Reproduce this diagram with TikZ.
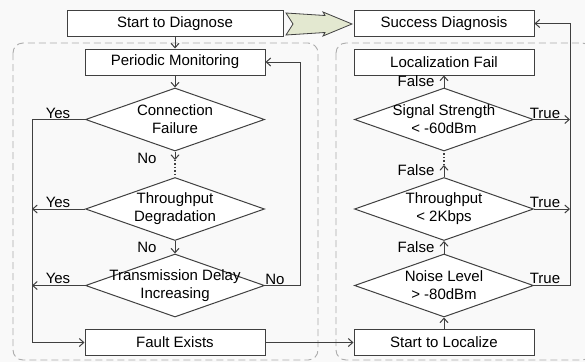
\documentclass[tikz,border=0pt]{standalone}
\usepackage{fontspec}
\setmainfont{Liberation Sans}
\usetikzlibrary{shapes.geometric,arrows.meta}
\definecolor{arrowfill}{HTML}{E3E8D0}

\begin{document}
\begin{tikzpicture}[
  x=1pt, y=-1pt,
  >={Straight Barb[length=4.5pt,width=8pt]},
  every node/.style={font=\fontsize{15}{18}\selectfont},
  box/.style={rectangle, draw=black!75, fill=white, line width=1pt,
              minimum width=180pt, minimum height=26pt, inner sep=0pt},
  cond/.style={diamond, draw=black!75, fill=white, line width=1pt,
               minimum width=179pt, minimum height=63pt, inner sep=0pt},
  condtext/.style={align=center, inner sep=0pt},
  lbl/.style={inner sep=0pt},
  conn/.style={->, draw=black!75, line width=1pt},
  dots/.style={draw=black!75, line width=1.4pt, dotted},
  region/.style={draw=gray!65, line width=0.9pt, dash pattern=on 7pt off 4pt,
                 rounded corners=10pt}
]
  \useasboundingbox (0,0) rectangle (585,362);
  \fill[gray!5] (0,0) rectangle (585,362);

  % Zones en pointill\'es
  \draw[region] (13,43) rectangle (318,360);
  \draw[region] (336,43) rectangle (592,360);

  % Ligne du haut
  \node[box, minimum width=216pt] (st) at (175,23.5) {Start to Diagnose};
  \node[box] (sd) at (444,23.5) {Success Diagnosis};
  \filldraw[fill=arrowfill, draw=black!75, line width=0.8pt]
    (286,13) -- (325,15.5) -- (323,12) -- (352,24) -- (323,36)
    -- (325,32.5) -- (286,35) -- (293,24) -- cycle;

  % Diagnostic
  \node[box] (pm) at (175,62) {Periodic Monitoring};
  \node[cond] (cf) at (175,119.5) {};
  \node[condtext] (cf-t) at (cf) {Connection\\Failure};
  \node[cond] (tp) at (175,209) {};
  \node[condtext] (tp-t) at (tp) {Throughput\\Degradation};
  \node[cond] (td) at (175,285.5) {};
  \node[condtext] (td-t) at (td) {Transmission Delay\\Increasing};
  \node[box] (fe) at (175,342.5) {Fault Exists};

  % Localisation
  \node[box] (lf) at (444,62) {Localization Fail};
  \node[cond] (ss) at (444,119.5) {};
  \node[condtext] (ss-t) at (ss) {Signal Strength\\< -60dBm};
  \node[cond] (tk) at (444,209) {};
  \node[condtext] (tk-t) at (tk) {Throughput\\< 2Kbps};
  \node[cond] (nl) at (444,285.5) {};
  \node[condtext] (nl-t) at (nl) {Noise Level\\> -80dBm};
  \node[box] (sl) at (444,342.5) {Start to Localize};

  % Points libres
  \coordinate (d1) at (175,160);
  \coordinate (d2) at (444,165);
  \coordinate (yl1) at (32,119.5);
  \coordinate (yl2) at (32,209);
  \coordinate (yl3) at (32,285.5);
  \coordinate (yl4) at (32,342.5);
  \coordinate (nb) at (300,285.5);
  \coordinate (rt1) at (570,119.5);
  \coordinate (rt2) at (570,209);
  \coordinate (rt3) at (570,285.5);

  % Connexions diagnostic
  \draw[conn] (st) -- (pm);
  \draw[conn] (pm) -- (cf);
  \draw[conn] (cf.south) -- (d1);
  \draw[dots] (d1) -- (tp.north);
  \draw[conn] (tp) -- (td);
  \draw[conn] (cf.west) -- (yl1) -- (yl4) -- (fe.west);
  \draw[conn] (tp.west) -- (yl2);
  \draw[conn] (td.west) -- (yl3);
  \draw[conn] (td.east) -- (nb) |- (pm.east);
  \draw[conn] (fe) -- (sl);

  % Connexions localisation
  \draw[conn] (sl) -- (nl);
  \draw[conn] (nl) -- (tk);
  \draw[conn] (tk.north) -- (d2);
  \draw[dots] (d2) -- (ss.south);
  \draw[conn] (ss) -- (lf);
  \draw[conn] (ss.east) -- (rt1);
  \draw[conn] (tk.east) -- (rt2);
  \draw[conn] (nl.east) -- (rt3) |- (sd.east);

  % Etiquettes
  \foreach \i/\y in {1/113,2/202,3/278} {
    \node[lbl] (yes\i) at (58,\y) {Yes};
    \node[lbl] (true\i) at (545,\y) {True};
  }
  \foreach \i/\y in {1/81,2/170,3/247} {
    \node[lbl] (false\i) at (416,\y) {False};
  }
  \node[lbl] (no1) at (147,158) {No};
  \node[lbl] (no2) at (147,247) {No};
  \node[lbl] (no3) at (275,279) {No};
\end{tikzpicture}
\end{document}
